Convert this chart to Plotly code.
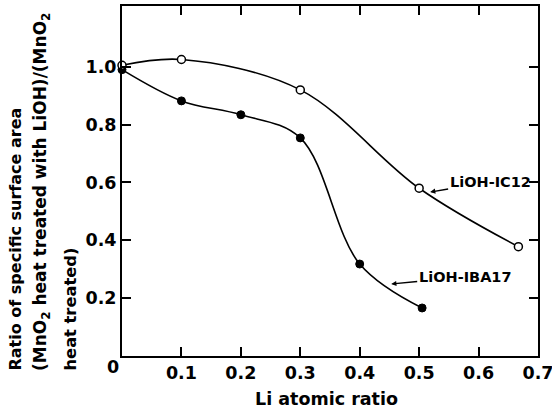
import plotly.graph_objects as go

# Data
x_ic12 = [0.0, 0.1, 0.3, 0.5, 0.667]
y_ic12 = [1.005, 1.025, 0.92, 0.58, 0.378]
x_iba17 = [0.0, 0.1, 0.2, 0.3, 0.4, 0.505]
y_iba17 = [0.99, 0.882, 0.834, 0.754, 0.318, 0.166]

x_ticks = [0.1, 0.2, 0.3, 0.4, 0.5, 0.6, 0.7]
x_tick_labels = ["0.1", "0.2", "0.3", "0.4", "0.5", "0.6", "0.7"]
y_ticks = [0.2, 0.4, 0.6, 0.8, 1.0]
y_tick_labels = ["0.2", "0.4", "0.6", "0.8", "1.0"]

FONT = "DejaVu Sans"
W, H = 552, 408
ML, MR, MT, MB = 122, 14, 6, 52
PW, PH = W - ML - MR, H - MT - MB


def px(xp):
    return (xp - ML) / PW


def py(yp):
    return (H - MB - yp) / PH


fig = go.Figure()
fig.add_trace(go.Scatter(
    x=x_iba17, y=y_iba17, mode="lines+markers",
    line=dict(color="black", width=1.6, shape="spline", smoothing=1.0),
    marker=dict(symbol="circle", size=8, color="black", line=dict(color="black", width=1)),
    showlegend=False, cliponaxis=False, hoverinfo="skip",
))
fig.add_trace(go.Scatter(
    x=x_ic12, y=y_ic12, mode="lines+markers",
    line=dict(color="black", width=1.6, shape="spline", smoothing=1.0),
    marker=dict(symbol="circle", size=8, color="white", line=dict(color="black", width=1.5)),
    showlegend=False, cliponaxis=False, hoverinfo="skip",
))

axis_common = dict(
    showline=True, linecolor="black", linewidth=2, mirror="ticks",
    ticks="inside", ticklen=9, tickwidth=1.5, tickcolor="black",
    showgrid=False, zeroline=False, ticklabeloverflow="allow", automargin=False,
    tickfont=dict(family=FONT, size=17.5, color="black", weight="bold"),
)

fig.update_xaxes(range=[0, 0.7], tickvals=x_ticks, ticktext=x_tick_labels, **axis_common)
fig.update_yaxes(range=[0, 1.21], tickvals=y_ticks, ticktext=y_tick_labels, **axis_common)

annotations = []
# corner "0"
annotations.append(dict(x=px(113), y=py(367), xref="paper", yref="paper", text="0",
                        showarrow=False, xanchor="center", yanchor="middle",
                        font=dict(family=FONT, size=17.5, color="black", weight="bold")))
# x-axis title
annotations.append(dict(x=px(326), y=py(399), xref="paper", yref="paper", text="Li atomic ratio",
                        showarrow=False, xanchor="center", yanchor="middle",
                        font=dict(family=FONT, size=17.5, color="black", weight="bold")))
# y-axis title lines
ylines = ["Ratio of specific surface area",
          "(MnO<sub>2</sub> heat treated with LiOH)/(MnO<sub>2</sub>",
          "heat treated)"]
ypos = [15, 42, 70]
ysizes = [16.0, 17.0, 16.3]
for t, xp, fs in zip(ylines, ypos, ysizes):
    annotations.append(dict(x=px(xp), y=py(373), xref="paper", yref="paper", text=t,
                            textangle=-90, showarrow=False, xanchor="center", yanchor="bottom",
                            font=dict(family=FONT, size=fs, color="black", weight="bold")))
# series labels with arrows
annotations.append(dict(x=0.5185, y=0.567, xref="x", yref="y", text="LiOH-IC12",
                        showarrow=True, ax=60, ay=-10, arrowhead=2, arrowsize=0.8, arrowwidth=1.3,
                        arrowcolor="black",
                        font=dict(family=FONT, size=14.5, color="black", weight="bold")))
annotations.append(dict(x=0.453, y=0.249, xref="x", yref="y", text="LiOH-IBA17",
                        showarrow=True, ax=74, ay=-7, arrowhead=2, arrowsize=0.8, arrowwidth=1.3,
                        arrowcolor="black",
                        font=dict(family=FONT, size=14.5, color="black", weight="bold")))

fig.update_layout(
    width=W, height=H,
    margin=dict(l=ML, r=MR, t=MT, b=MB, autoexpand=False),
    paper_bgcolor="white", plot_bgcolor="white",
    annotations=annotations,
    showlegend=False,
    hovermode=False,
)

fig.write_html(
    "out.html",
    config={"displayModeBar": False},
    post_script="document.body.style.margin='0';document.body.style.padding='0';document.body.style.overflow='hidden';",
)
